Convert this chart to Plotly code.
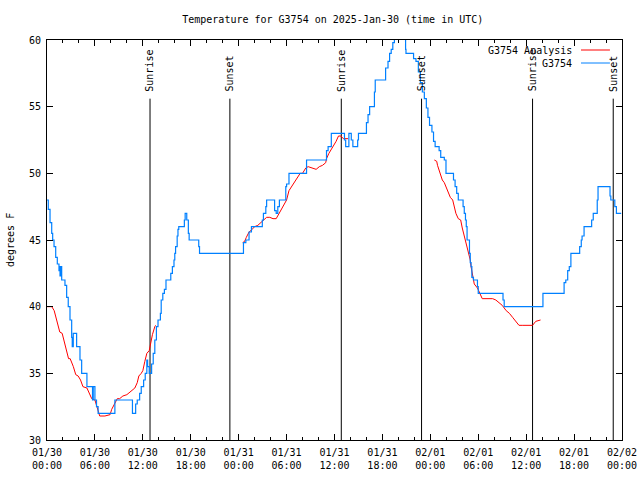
import pandas as pd
import plotly.graph_objects as go

# ---------------- data ----------------
obs_hours = [0.0, 0.16, 0.38, 0.59, 0.71, 0.88, 1.09, 1.29, 1.5, 1.56, 1.63, 1.69, 1.84, 2.25, 2.46, 2.66,
             2.88, 3.09, 3.16, 3.29, 3.71, 4.13, 4.34, 5.0, 5.7, 5.79, 6.0, 6.2, 6.4, 8.5, 10.7, 11.1,
             11.3, 11.6, 11.8, 12.1, 12.3, 12.5, 12.6, 12.8, 13.1, 13.3, 13.5, 13.7, 13.9, 14.2, 14.3,
             14.5, 14.7, 14.9, 15.5, 15.7, 15.9, 16.0, 16.1, 16.3, 16.4, 16.5, 17.2, 17.3, 17.5, 17.7,
             17.8, 19.0, 19.1, 24.6, 24.9, 25.3, 25.6, 26.96, 27.1, 27.4, 27.5, 28.5, 28.7, 28.9, 29.1,
             29.9, 30.0, 30.3, 32.5, 35.0, 35.2, 35.6, 37.25, 37.4, 37.8, 38.1, 38.3, 38.9, 39.0, 40.0,
             40.2, 40.4, 41.0, 41.1, 42.4, 42.7, 42.9, 43.1, 43.3, 43.5, 44.9, 44.95, 45.9, 46.2, 46.5,
             46.75, 47.0, 47.25, 47.5, 47.7, 47.9, 48.2, 48.4, 48.6, 49.1, 49.3, 49.75, 49.96, 50.9,
             51.1, 51.3, 51.5, 52.1, 52.25, 52.4, 52.5, 52.6, 52.9, 53.0, 53.1, 53.2, 53.4, 53.9, 54.0,
             57.1, 57.25, 62.1, 64.75, 64.96, 65.2, 65.4, 65.6, 66.7, 66.9, 67.0, 67.25, 68.2, 68.4,
             68.9, 69.0, 70.5, 70.6, 71.1, 71.3, 71.9]
obs_temps = [48.0, 47.3, 46.3, 45.5, 45.0, 44.5, 43.7, 43.2, 42.7, 43.0, 42.3, 43.0, 42.0, 41.6, 40.7, 40.0,
             39.0, 37.7, 37.0, 38.0, 37.0, 36.0, 35.0, 34.0, 33.0, 34.0, 33.0, 32.5, 32.0, 33.0, 32.0, 32.7,
             33.0, 33.5, 34.0, 34.5, 35.0, 36.0, 35.5, 35.0, 35.7, 36.5, 37.5, 38.5, 39.0, 39.5, 40.5,
             41.0, 41.3, 42.0, 42.5, 43.0, 43.5, 44.0, 44.5, 45.3, 45.8, 46.0, 46.5, 47.0, 46.5, 45.5,
             45.0, 44.5, 44.0, 44.8, 45.0, 45.6, 46.0, 46.5, 47.0, 47.5, 48.0, 47.2, 47.0, 47.5, 48.0,
             49.0, 49.2, 50.0, 51.0, 51.7, 52.0, 53.0, 52.5, 52.0, 53.0, 52.5, 52.0, 52.5, 53.0, 53.8,
             54.4, 55.0, 56.1, 57.0, 57.9, 58.4, 59.0, 59.3, 59.8, 60.5, 59.3, 59.0, 58.6, 58.4, 57.6,
             56.8, 56.1, 55.6, 54.9, 54.2, 53.6, 53.1, 52.4, 52.0, 51.7, 51.2, 51.0, 50.0, 49.5,
             49.0, 48.5, 48.0, 47.5, 47.0, 46.5, 46.0, 45.0, 44.0, 43.3, 43.0, 42.2, 42.0, 41.5, 41.0,
             40.5, 40.0, 41.0, 41.8, 42.0, 42.7, 43.0, 44.0, 44.5, 45.0, 45.3, 46.0, 46.5, 47.0,
             48.0, 49.0, 48.3, 48.0, 47.5, 47.0, 47.0]

ana_hours = [0.0, 0.6, 0.9, 1.1, 1.4, 1.6, 1.9, 2.1, 2.4, 2.7, 2.9, 3.1, 3.3, 3.6, 3.9, 4.2, 4.5, 5.0,
             5.4, 5.6, 6.0, 6.4, 6.6, 7.25, 7.9, 8.1, 8.5, 8.8, 9.1, 9.5, 10.0, 10.4, 10.7, 11.0, 11.3,
             11.5, 11.8, 12.0, 12.25, 12.5, 12.8, 13.0, 13.2, 13.5, 13.6, None,
             24.5, 24.75, 24.96, 25.3, 25.6, 26.0, 26.4, 26.8, 27.1, 27.5, 27.9, 28.3, 28.7, 29.0, 29.3,
             29.6, 30.0, 30.3, 30.6, 30.8, 31.1, 31.4, 31.7, 32.0, 32.4, 32.7, 33.1, 33.7, 34.1, 34.5,
             34.9, 35.0, 35.3, 35.6, 35.9, 36.2, 36.5, 36.8, 37.1, 37.7, None,
             48.5, 48.8, 48.9, 49.1, 49.3, 49.5, 49.75, 49.96, 50.3, 50.5, 50.8, 51.0, 51.2, 51.5, 51.8,
             52.0, 52.25, 52.5, 52.8, 53.0, 53.1, 53.3, 53.5, 53.9, 54.2, 54.5, 55.8, 56.2, 56.6, 57.0,
             57.5, 57.9, 58.3, 58.7, 59.1, 59.5, 60.8, 61.2, 61.6, 61.8]
ana_temps = [40.0, 40.0, 39.7, 39.2, 38.5, 38.1, 38.0, 37.5, 36.8, 36.1, 36.1, 35.8, 35.5, 34.9, 34.8,
             34.5, 34.0, 33.9, 33.4, 33.1, 33.0, 32.3, 31.8, 31.8, 31.9, 32.3, 32.8, 33.1, 33.1, 33.3,
             33.4, 33.6, 33.8, 33.9, 34.3, 34.8, 35.0, 35.2, 35.9, 36.5, 36.7, 37.3, 37.9, 38.5, 38.6, None,
             44.8, 44.9, 45.2, 45.6, 45.75, 46.0, 46.1, 46.3, 46.5, 46.7, 46.7, 46.6, 46.6, 46.9, 47.2,
             47.5, 48.0, 48.7, 49.0, 49.1, 49.5, 49.8, 50.0, 50.0, 50.4, 50.5, 50.4, 50.3, 50.5, 50.6,
             50.8, 51.1, 51.5, 51.8, 52.0, 52.4, 52.8, 52.8, 52.6, 52.6, None,
             51.0, 50.9, 50.6, 50.2, 49.8, 49.5, 49.3, 49.0, 48.5, 48.2, 48.0, 47.5, 47.0, 46.6, 46.5,
             45.9, 45.3, 44.6, 44.0, 43.5, 43.0, 42.3, 41.7, 41.4, 41.0, 40.6, 40.6, 40.5, 40.3, 40.1,
             39.7, 39.5, 39.2, 38.9, 38.6, 38.6, 38.6, 38.9, 39.0, 39.0]

sun_hours = [12.9, 22.9, 36.85, 46.9, 60.8, 70.9]
sun_labels = ["Sunrise", "Sunset", "Sunrise", "Sunset", "Sunrise", "Sunset"]

base = pd.Timestamp("2025-01-30 00:00")


def to_time(hours):
    return [None if h is None else base + pd.Timedelta(hours=h) for h in hours]


FONT = "DejaVu Sans Mono"
RED = "#ff0000"
BLUE = "#0080ff"

FIG_W, FIG_H = 640, 480
TITLE_Y_PX = 19

fig = go.Figure()

# sunrise / sunset lines
for h, lab in zip(sun_hours, sun_labels):
    t = base + pd.Timedelta(hours=h)
    fig.add_trace(go.Scatter(x=[t, t], y=[30, 55.6], mode="lines",
                             line=dict(color="black", width=1), showlegend=False, hoverinfo="skip"))
    fig.add_annotation(x=t, y=55.6, xref="x", yref="y", text=lab, textangle=-90,
                       showarrow=False, xanchor="center", yanchor="bottom", yshift=5,
                       font=dict(family=FONT, size=10, color="black"))

fig.add_trace(go.Scatter(x=to_time(ana_hours), y=ana_temps, mode="lines", name="G3754 Analysis",
                         line=dict(color=RED, width=1), connectgaps=False, showlegend=False))
fig.add_trace(go.Scatter(x=to_time(obs_hours), y=obs_temps, mode="lines", name="G3754",
                         line=dict(color=BLUE, width=1.2, shape="hv"), showlegend=False))

# manual legend (text then sample line, gnuplot style)
legend_items = [("G3754 Analysis", RED, 0.975), ("G3754", BLUE, 0.9425)]
for name, col, yp in legend_items:
    fig.add_annotation(x=0.9165, y=yp, xref="paper", yref="paper", text=name, showarrow=False,
                       xanchor="right", yanchor="middle", font=dict(family=FONT, size=10, color="black"))
    fig.add_shape(type="line", xref="paper", yref="paper", x0=0.9287, x1=0.979, y0=yp, y1=yp,
                  line=dict(color=col, width=1))

fig.add_annotation(x=-0.0643, y=0.5, xref="paper", yref="paper", text="degrees F", textangle=-90,
                   showarrow=False, xanchor="center", yanchor="middle",
                   font=dict(family=FONT, size=10, color="black"))

fig.update_layout(
    width=FIG_W, height=FIG_H,
    margin=dict(l=47, r=18, t=40, b=40, autoexpand=False),
    paper_bgcolor="white", plot_bgcolor="white",
    font=dict(family=FONT, size=10, color="black"),
    title=dict(text="Temperature for G3754 on 2025-Jan-30 (time in UTC)", x=0.497, xref="paper",
               y=1 - TITLE_Y_PX / FIG_H, yanchor="middle", font=dict(family=FONT, size=10, color="black")),
    showlegend=False,
)
fig.update_xaxes(type="date", range=[base, base + pd.Timedelta(hours=72)],
                 tickformat="%m/%d<br>%H:%M", dtick=6 * 3600 * 1000, tick0=base,
                 ticks="inside", ticklen=6, tickcolor="black", showline=True, linecolor="black",
                 linewidth=1, mirror="allticks", showgrid=False, zeroline=False, automargin=False,
                 ticklabelstandoff=3,
                 minor=dict(ticks="inside", ticklen=3, dtick=2 * 3600 * 1000, tickcolor="black",
                            showgrid=False),
                 tickfont=dict(family=FONT, size=10))
fig.update_yaxes(range=[30, 60], dtick=5, ticks="inside", ticklen=6, tickcolor="black",
                 showline=True, linecolor="black", linewidth=1, mirror="allticks", showgrid=False,
                 zeroline=False, automargin=False, ticklabelstandoff=3,
                 tickfont=dict(family=FONT, size=10))

# remove the browser's default 8px body margin so the figure sits at the page origin
fig.write_html("out.html", config={"displayModeBar": False},
               post_script="document.body.style.margin='0';document.body.style.overflow='hidden';")
